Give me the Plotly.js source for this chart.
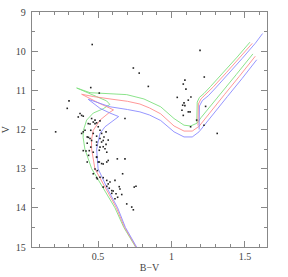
<!DOCTYPE html>
<html>
<head>
<meta charset="utf-8">
<script src="https://cdn.plot.ly/plotly-3.0.1.min.js"></script>
<style>html,body{margin:0;padding:0;background:#fff;}#chart{width:288px;height:277px;}</style>
</head>
<body>
<div id="chart"></div>
<script>
// Observed stars (B-V, V)
const starBV = [0.46,0.74,0.78,0.45,0.508,0.302,0.29,0.211,0.683,
  0.842,1.194,1.091,1.08,1.098,1.223,1.039,1.132,1.114,1.085,1.076,1.091,1.071,1.114,1.126,1.08,1.232,1.171,1.13,1.221,1.311,
  0.377,0.388,0.365,0.399,0.456,0.467,0.433,0.445,0.479,0.49,0.501,0.411,0.399,0.45,0.513,0.467,0.49,0.434,0.445,0.513,0.524,0.554,0.54,0.388,0.426,0.479,0.513,
  0.426,0.456,0.49,0.535,0.554,0.569,0.45,0.513,0.547,0.399,0.418,0.44,0.467,0.559,0.435,0.49,0.569,0.631,0.683,0.508,0.535,0.426,
  0.479,0.495,0.467,0.513,0.495,0.667,0.535,0.559,0.615,0.581,0.559,0.535,0.593,0.649,0.622,0.661,0.758,0.746,0.615,0.633,0.695,0.729,0.74,
  0.603,0.524,0.49,0.535,0.508,0.49,0.501,0.524,0.559,0.569,0.576,0.644,0.593,0.49];
const starV = [9.83,10.43,10.56,10.93,11.07,11.27,11.46,12.06,11.72,
  10.90,9.98,10.74,10.84,10.97,10.66,11.18,11.17,11.25,11.32,11.38,11.39,11.51,11.55,11.55,11.64,11.41,11.76,11.93,11.89,12.10,
  11.59,11.64,11.68,11.66,11.72,11.81,11.85,11.86,11.85,11.83,11.93,12.02,12.06,12.02,12.02,12.10,12.17,12.20,12.23,12.23,12.10,12.06,12.19,12.10,12.19,11.76,11.78,
  12.35,12.28,12.32,12.28,12.38,12.27,12.45,12.45,12.49,12.54,12.55,12.54,12.58,12.58,12.66,12.71,12.79,12.75,12.75,12.83,12.88,12.83,
  13.01,13.05,13.13,13.22,13.26,13.13,13.23,13.30,13.30,13.34,13.45,13.47,13.56,13.52,13.64,13.66,13.45,13.47,13.77,13.73,13.90,13.98,14.05,
  13.57,12.32,12.40,12.44,12.53,12.70,12.83,12.87,12.83,13.39,13.50,13.46,13.63,13.23];

// Isochrones: main branch (MS -> turnoff hook -> SGB -> RGB)
const greenMainBV = [0.755,0.675,0.615,0.535,0.456,0.41,0.398,0.40,0.422,0.467,0.535,0.58,0.558,0.49,0.354,0.445,0.55,0.695,0.812,0.926,1.017,1.085,1.13,1.173,1.2,1.24,1.34,1.44,1.554];
const greenMainV  = [15.0,14.5,14.0,13.5,13.0,12.5,12.2,12.02,11.76,11.58,11.47,11.36,11.27,11.16,10.94,11.06,11.08,11.11,11.22,11.42,11.72,11.89,11.91,11.84,11.7,11.52,11.06,10.6,10.07];
const redMainBV = [0.758,0.68,0.625,0.55,0.478,0.456,0.455,0.467,0.513,0.575,0.605,0.56,0.513,0.388,0.47,0.581,0.70,0.785,0.85,0.926,1.017,1.085,1.141,1.187,1.22,1.26,1.36,1.46,1.57];
const redMainV  = [15.0,14.5,14.0,13.5,13.0,12.5,12.27,12.02,11.76,11.57,11.5,11.42,11.34,11.10,11.16,11.22,11.28,11.35,11.45,11.6,11.91,12.04,12.04,11.92,11.76,11.57,11.11,10.65,10.13];
const blueMainBV = [0.762,0.686,0.633,0.562,0.50,0.49,0.50,0.513,0.547,0.603,0.64,0.581,0.513,0.433,0.513,0.581,0.70,0.785,0.85,0.926,1.017,1.085,1.141,1.187,1.23,1.28,1.38,1.48,1.58];
const blueMainV  = [15.0,14.5,14.0,13.5,13.0,12.5,12.32,12.10,11.93,11.76,11.67,11.58,11.46,11.23,11.34,11.42,11.49,11.55,11.63,11.77,12.06,12.19,12.19,12.06,11.86,11.62,11.16,10.7,10.22];

// Isochrones: clump / AGB branch
const greenUpperBV = [1.172,1.175,1.19,1.221,1.266,1.357,1.447,1.534];
const greenUpperV  = [11.82,11.3,11.18,11.08,10.9,10.53,10.15,9.77];
const redUpperBV = [1.18,1.183,1.2,1.235,1.285,1.375,1.465,1.55];
const redUpperV  = [11.9,11.35,11.22,11.1,10.91,10.54,10.16,9.8];
const blueUpperBV = [1.188,1.19,1.21,1.25,1.30,1.39,1.48,1.57,1.62];
const blueUpperV  = [12.0,11.4,11.26,11.14,10.94,10.57,10.19,9.8,9.55];

const xTickVals = [0.5, 1, 1.5];
const xTickText = ['0.5', '1', '1.5'];
const yTickVals = [9, 10, 11, 12, 13, 14, 15];
const yTickText = ['9', '10', '11', '12', '13', '14', '15'];

const colG = '#7ee07e', colR = '#ff8c8c', colB = '#8a8aff';
function iso(x, y, c) {
  return {x: x, y: y, type: 'scatter', mode: 'lines', line: {color: c, width: 0.9}, hoverinfo: 'skip'};
}
const traces = [
  iso(greenMainBV, greenMainV, colG), iso(redMainBV, redMainV, colR), iso(blueMainBV, blueMainV, colB),
  iso(greenUpperBV, greenUpperV, colG), iso(redUpperBV, redUpperV, colR), iso(blueUpperBV, blueUpperV, colB),
  {x: starBV, y: starV, type: 'scatter', mode: 'markers', marker: {color: '#222', size: 1.6, symbol: 'square', line: {width: 0}}}
];
const axisFont = {family: 'Liberation Serif, serif', size: 10, color: '#444'};
const layout = {
  width: 288, height: 277,
  margin: {l: 32, r: 21, t: 12, b: 30, pad: 0},
  paper_bgcolor: '#fff', plot_bgcolor: '#fff',
  showlegend: false,
  xaxis: {
    range: [0.05, 1.65], tickvals: xTickVals, ticktext: xTickText,
    ticks: 'inside', ticklen: 6, tickcolor: '#888', tickwidth: 1,
    minor: {dtick: 0.1, ticks: 'inside', ticklen: 3, tickcolor: '#888', showgrid: false},
    showline: true, linecolor: '#888', linewidth: 1.3, mirror: 'allticks',
    showgrid: false, zeroline: false, tickfont: axisFont,
    title: {text: 'B\u2212V', font: axisFont, standoff: 2}
  },
  yaxis: {
    range: [15, 9], tickvals: yTickVals, ticktext: yTickText,
    ticks: 'inside', ticklen: 6, tickcolor: '#888', tickwidth: 1,
    minor: {dtick: 0.5, ticks: 'inside', ticklen: 3, tickcolor: '#888', showgrid: false},
    showline: true, linecolor: '#888', linewidth: 1.3, mirror: 'allticks',
    showgrid: false, zeroline: false, tickfont: axisFont, ticklabelstandoff: 3,
    title: {text: 'V', font: axisFont, standoff: 4}
  }
};
Plotly.newPlot('chart', traces, layout, {staticPlot: true, displayModeBar: false});
</script>
</body>
</html>
